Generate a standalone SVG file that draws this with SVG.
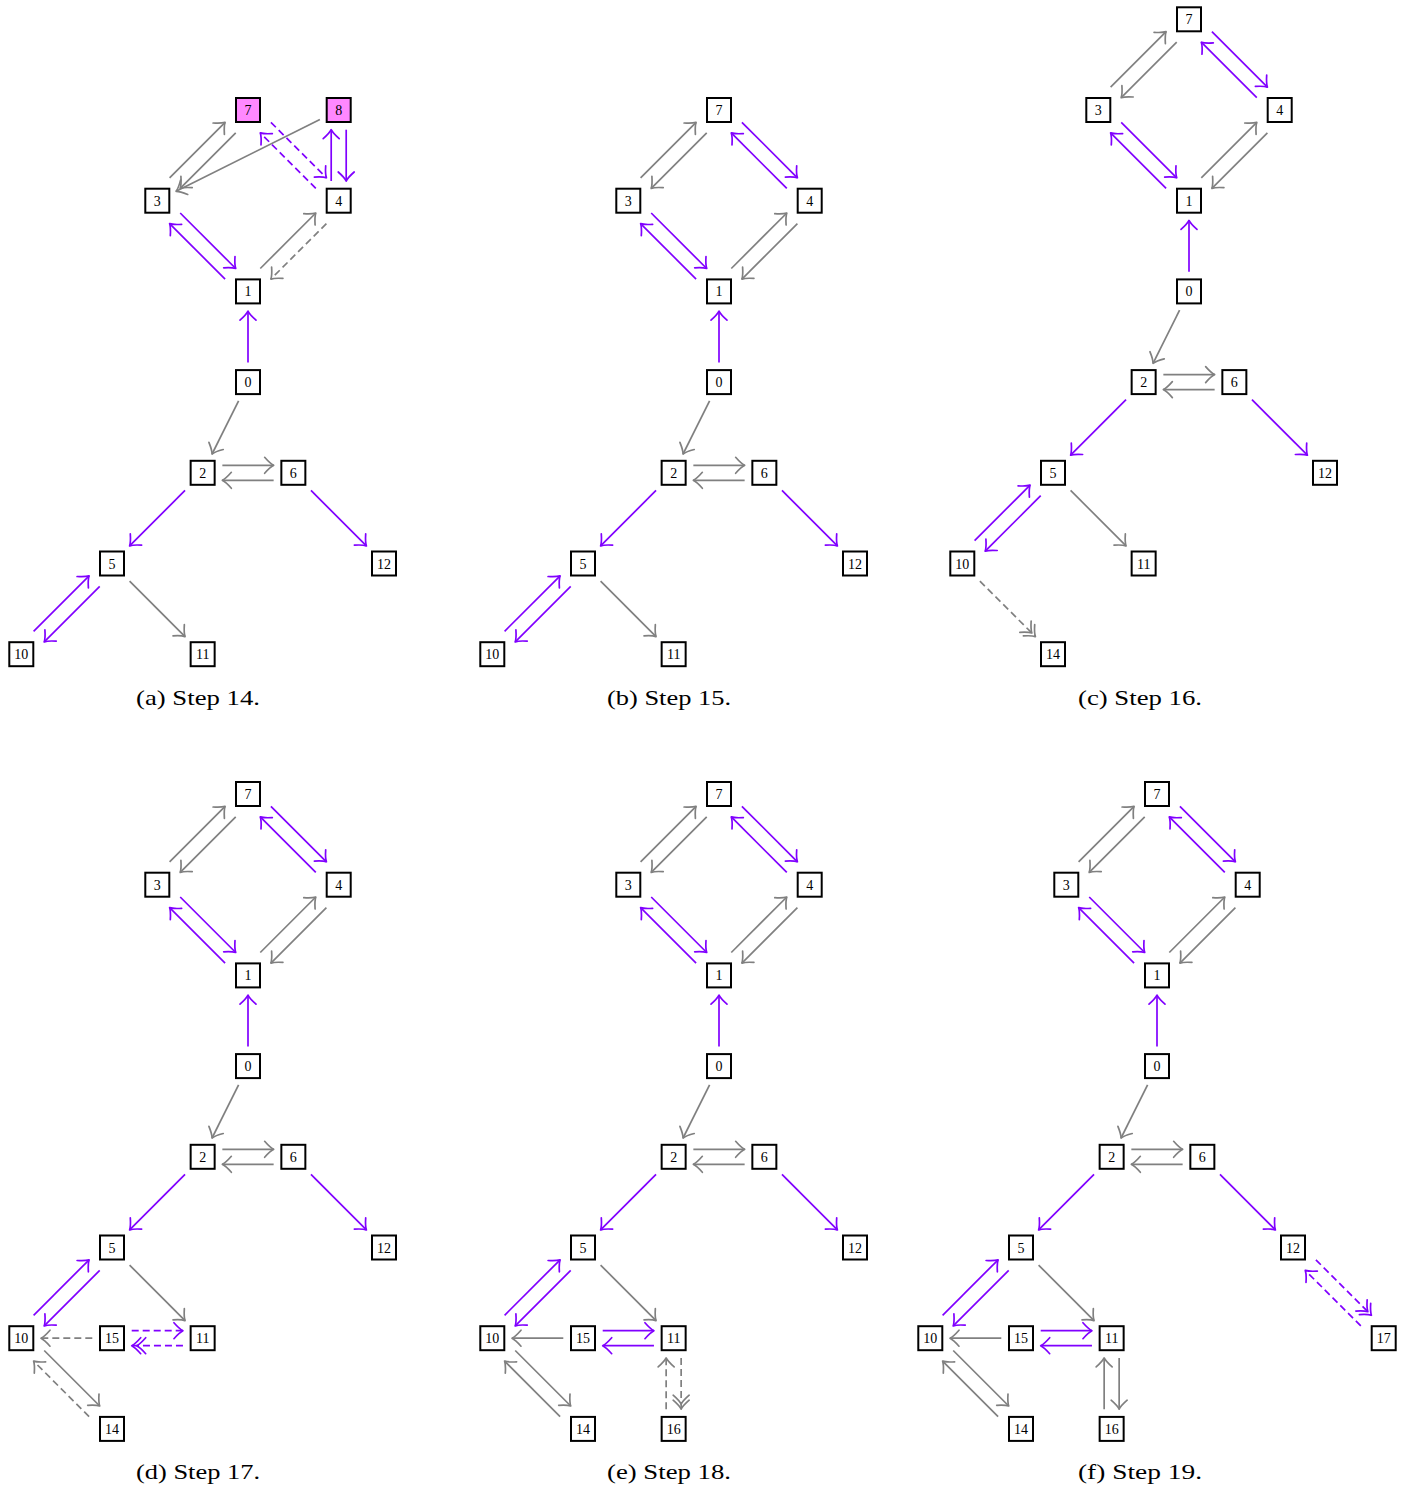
<svg xmlns="http://www.w3.org/2000/svg" width="1415" height="1489" viewBox="0 0 1415 1489">
<style>
.node rect{fill:#fff;stroke:#000;stroke-width:2}
.node.pk rect{fill:#ff88ff}
.node text{font-family:"Liberation Serif","Times New Roman",serif;font-size:14px;text-anchor:middle;fill:#000}
line.g{stroke:#808080;stroke-width:1.7;fill:none}
line.p{stroke:#8000ff;stroke-width:1.7;fill:none}
line.g{marker-end:url(#ag)}
line.p{marker-end:url(#ap)}
line.d{stroke-dasharray:7 4}
line.g.d2{marker-end:url(#ag2)}
line.p.d2{marker-end:url(#ap2)}
.mg{stroke:#808080;stroke-width:1.7;fill:none;stroke-linecap:round;stroke-linejoin:round}
.mp{stroke:#8000ff;stroke-width:1.7;fill:none;stroke-linecap:round;stroke-linejoin:round}
.cap{font-family:"Liberation Serif","Times New Roman",serif;font-size:22px;text-anchor:middle;fill:#000}
</style>
<defs>
<marker id="ag" markerUnits="userSpaceOnUse" viewBox="-12 -10 14 20" markerWidth="14" markerHeight="20" refX="0" refY="0" orient="auto" overflow="visible"><path class="mg" d="M-9,-8 C-5.5,-4 -2,-1 0,0 C-2,1 -5.5,4 -9,8"/></marker>
<marker id="ap" markerUnits="userSpaceOnUse" viewBox="-12 -10 14 20" markerWidth="14" markerHeight="20" refX="0" refY="0" orient="auto" overflow="visible"><path class="mp" d="M-9,-8 C-5.5,-4 -2,-1 0,0 C-2,1 -5.5,4 -9,8"/></marker>
<marker id="ag2" markerUnits="userSpaceOnUse" viewBox="-16 -10 18 20" markerWidth="18" markerHeight="20" refX="0" refY="0" orient="auto" overflow="visible"><path class="mg" d="M-9,-8 C-5.5,-4 -2,-1 0,0 C-2,1 -5.5,4 -9,8 M-14,-8 C-10.5,-4 -7,-1 -5,0 C-7,1 -10.5,4 -14,8"/></marker>
<marker id="ap2" markerUnits="userSpaceOnUse" viewBox="-16 -10 18 20" markerWidth="18" markerHeight="20" refX="0" refY="0" orient="auto" overflow="visible"><path class="mp" d="M-9,-8 C-5.5,-4 -2,-1 0,0 C-2,1 -5.5,4 -9,8 M-14,-8 C-10.5,-4 -7,-1 -5,0 C-7,1 -10.5,4 -14,8"/></marker>
</defs>

<!-- Panel (a) -->
<g id="panel-a">
<g id="a-edges">
<line class="g" x1="169.6" y1="177.8" x2="225.1" y2="122.3"/>
<line class="g" x1="235.7" y1="132.9" x2="180.2" y2="188.4"/>
<line class="g" x1="319.9" y1="119.4" x2="176.1" y2="191.3"/>
<line class="p d" x1="270.9" y1="122.3" x2="326.4" y2="177.8"/>
<line class="p d" x1="315.8" y1="188.4" x2="260.3" y2="132.9"/>
<line class="p" x1="331.2" y1="181" x2="331.2" y2="129.7"/>
<line class="p" x1="346.2" y1="129.7" x2="346.2" y2="181"/>
<line class="p" x1="180.2" y1="213" x2="235.7" y2="268.5"/>
<line class="p" x1="225.1" y1="279.1" x2="169.6" y2="223.6"/>
<line class="g" x1="260.3" y1="268.5" x2="315.8" y2="213"/>
<line class="g d" x1="326.4" y1="223.6" x2="270.9" y2="279.1"/>
<line class="p" x1="248" y1="362.4" x2="248" y2="311.1"/>
<line class="g" x1="238.6" y1="400.9" x2="212.05" y2="454"/>
<line class="g" x1="222.35" y1="465.3" x2="273.65" y2="465.3"/>
<line class="g" x1="273.65" y1="480.3" x2="222.35" y2="480.3"/>
<line class="p" x1="185.05" y1="490.4" x2="129.6" y2="545.9"/>
<line class="p" x1="310.95" y1="490.4" x2="366.4" y2="545.9"/>
<line class="p" x1="33.6" y1="631.3" x2="89.1" y2="575.8"/>
<line class="p" x1="99.7" y1="586.4" x2="44.2" y2="641.9"/>
<line class="g" x1="129.6" y1="581.1" x2="185.05" y2="636.6"/>
</g>
<g id="a-n7" class="node pk" transform="translate(248,110)"><rect x="-12" y="-12" width="24" height="24"/><text y="5">7</text></g>
<g id="a-n8" class="node pk" transform="translate(338.7,110)"><rect x="-12" y="-12" width="24" height="24"/><text y="5">8</text></g>
<g id="a-n3" class="node" transform="translate(157.3,200.7)"><rect x="-12" y="-12" width="24" height="24"/><text y="5">3</text></g>
<g id="a-n4" class="node" transform="translate(338.7,200.7)"><rect x="-12" y="-12" width="24" height="24"/><text y="5">4</text></g>
<g id="a-n1" class="node" transform="translate(248,291.4)"><rect x="-12" y="-12" width="24" height="24"/><text y="5">1</text></g>
<g id="a-n0" class="node" transform="translate(248,382.1)"><rect x="-12" y="-12" width="24" height="24"/><text y="5">0</text></g>
<g id="a-n2" class="node" transform="translate(202.65,472.8)"><rect x="-12" y="-12" width="24" height="24"/><text y="5">2</text></g>
<g id="a-n6" class="node" transform="translate(293.35,472.8)"><rect x="-12" y="-12" width="24" height="24"/><text y="5">6</text></g>
<g id="a-n5" class="node" transform="translate(112,563.5)"><rect x="-12" y="-12" width="24" height="24"/><text y="5">5</text></g>
<g id="a-n12" class="node" transform="translate(384,563.5)"><rect x="-12" y="-12" width="24" height="24"/><text y="5">12</text></g>
<g id="a-n10" class="node" transform="translate(21.3,654.2)"><rect x="-12" y="-12" width="24" height="24"/><text y="5">10</text></g>
<g id="a-n11" class="node" transform="translate(202.65,654.2)"><rect x="-12" y="-12" width="24" height="24"/><text y="5">11</text></g>
</g>
<text class="cap" x="198" y="705" textLength="124" lengthAdjust="spacingAndGlyphs">(a) Step 14.</text>

<!-- Panel (b) -->
<g id="panel-b" transform="translate(471,0)">
<g id="b-edges">
<line class="g" x1="169.6" y1="177.8" x2="225.1" y2="122.3"/>
<line class="g" x1="235.7" y1="132.9" x2="180.2" y2="188.4"/>
<line class="p" x1="270.9" y1="122.3" x2="326.4" y2="177.8"/>
<line class="p" x1="315.8" y1="188.4" x2="260.3" y2="132.9"/>
<line class="p" x1="180.2" y1="213" x2="235.7" y2="268.5"/>
<line class="p" x1="225.1" y1="279.1" x2="169.6" y2="223.6"/>
<line class="g" x1="260.3" y1="268.5" x2="315.8" y2="213"/>
<line class="g" x1="326.4" y1="223.6" x2="270.9" y2="279.1"/>
<line class="p" x1="248" y1="362.4" x2="248" y2="311.1"/>
<line class="g" x1="238.6" y1="400.9" x2="212.05" y2="454"/>
<line class="g" x1="222.35" y1="465.3" x2="273.65" y2="465.3"/>
<line class="g" x1="273.65" y1="480.3" x2="222.35" y2="480.3"/>
<line class="p" x1="185.05" y1="490.4" x2="129.6" y2="545.9"/>
<line class="p" x1="310.95" y1="490.4" x2="366.4" y2="545.9"/>
<line class="p" x1="33.6" y1="631.3" x2="89.1" y2="575.8"/>
<line class="p" x1="99.7" y1="586.4" x2="44.2" y2="641.9"/>
<line class="g" x1="129.6" y1="581.1" x2="185.05" y2="636.6"/>
</g>
<g id="b-n7" class="node" transform="translate(248,110)"><rect x="-12" y="-12" width="24" height="24"/><text y="5">7</text></g>
<g id="b-n3" class="node" transform="translate(157.3,200.7)"><rect x="-12" y="-12" width="24" height="24"/><text y="5">3</text></g>
<g id="b-n4" class="node" transform="translate(338.7,200.7)"><rect x="-12" y="-12" width="24" height="24"/><text y="5">4</text></g>
<g id="b-n1" class="node" transform="translate(248,291.4)"><rect x="-12" y="-12" width="24" height="24"/><text y="5">1</text></g>
<g id="b-n0" class="node" transform="translate(248,382.1)"><rect x="-12" y="-12" width="24" height="24"/><text y="5">0</text></g>
<g id="b-n2" class="node" transform="translate(202.65,472.8)"><rect x="-12" y="-12" width="24" height="24"/><text y="5">2</text></g>
<g id="b-n6" class="node" transform="translate(293.35,472.8)"><rect x="-12" y="-12" width="24" height="24"/><text y="5">6</text></g>
<g id="b-n5" class="node" transform="translate(112,563.5)"><rect x="-12" y="-12" width="24" height="24"/><text y="5">5</text></g>
<g id="b-n12" class="node" transform="translate(384,563.5)"><rect x="-12" y="-12" width="24" height="24"/><text y="5">12</text></g>
<g id="b-n10" class="node" transform="translate(21.3,654.2)"><rect x="-12" y="-12" width="24" height="24"/><text y="5">10</text></g>
<g id="b-n11" class="node" transform="translate(202.65,654.2)"><rect x="-12" y="-12" width="24" height="24"/><text y="5">11</text></g>
</g>
<text class="cap" x="669" y="705" textLength="124" lengthAdjust="spacingAndGlyphs">(b) Step 15.</text>

<!-- Panel (c) -->
<g id="panel-c" transform="translate(941,-90.7)">
<g id="c-edges">
<line class="g" x1="169.6" y1="177.8" x2="225.1" y2="122.3"/>
<line class="g" x1="235.7" y1="132.9" x2="180.2" y2="188.4"/>
<line class="p" x1="270.9" y1="122.3" x2="326.4" y2="177.8"/>
<line class="p" x1="315.8" y1="188.4" x2="260.3" y2="132.9"/>
<line class="p" x1="180.2" y1="213" x2="235.7" y2="268.5"/>
<line class="p" x1="225.1" y1="279.1" x2="169.6" y2="223.6"/>
<line class="g" x1="260.3" y1="268.5" x2="315.8" y2="213"/>
<line class="g" x1="326.4" y1="223.6" x2="270.9" y2="279.1"/>
<line class="p" x1="248" y1="362.4" x2="248" y2="311.1"/>
<line class="g" x1="238.6" y1="400.9" x2="212.05" y2="454"/>
<line class="g" x1="222.35" y1="465.3" x2="273.65" y2="465.3"/>
<line class="g" x1="273.65" y1="480.3" x2="222.35" y2="480.3"/>
<line class="p" x1="185.05" y1="490.4" x2="129.6" y2="545.9"/>
<line class="p" x1="310.95" y1="490.4" x2="366.4" y2="545.9"/>
<line class="p" x1="33.6" y1="631.3" x2="89.1" y2="575.8"/>
<line class="p" x1="99.7" y1="586.4" x2="44.2" y2="641.9"/>
<line class="g" x1="129.6" y1="581.1" x2="185.05" y2="636.6"/>
<line class="g d d2" x1="38.9" y1="671.8" x2="94.4" y2="727.3"/>
</g>
<g id="c-n7" class="node" transform="translate(248,110)"><rect x="-12" y="-12" width="24" height="24"/><text y="5">7</text></g>
<g id="c-n3" class="node" transform="translate(157.3,200.7)"><rect x="-12" y="-12" width="24" height="24"/><text y="5">3</text></g>
<g id="c-n4" class="node" transform="translate(338.7,200.7)"><rect x="-12" y="-12" width="24" height="24"/><text y="5">4</text></g>
<g id="c-n1" class="node" transform="translate(248,291.4)"><rect x="-12" y="-12" width="24" height="24"/><text y="5">1</text></g>
<g id="c-n0" class="node" transform="translate(248,382.1)"><rect x="-12" y="-12" width="24" height="24"/><text y="5">0</text></g>
<g id="c-n2" class="node" transform="translate(202.65,472.8)"><rect x="-12" y="-12" width="24" height="24"/><text y="5">2</text></g>
<g id="c-n6" class="node" transform="translate(293.35,472.8)"><rect x="-12" y="-12" width="24" height="24"/><text y="5">6</text></g>
<g id="c-n5" class="node" transform="translate(112,563.5)"><rect x="-12" y="-12" width="24" height="24"/><text y="5">5</text></g>
<g id="c-n12" class="node" transform="translate(384,563.5)"><rect x="-12" y="-12" width="24" height="24"/><text y="5">12</text></g>
<g id="c-n10" class="node" transform="translate(21.3,654.2)"><rect x="-12" y="-12" width="24" height="24"/><text y="5">10</text></g>
<g id="c-n11" class="node" transform="translate(202.65,654.2)"><rect x="-12" y="-12" width="24" height="24"/><text y="5">11</text></g>
<g id="c-n14" class="node" transform="translate(112,744.9)"><rect x="-12" y="-12" width="24" height="24"/><text y="5">14</text></g>
</g>
<text class="cap" x="1140" y="705" textLength="124" lengthAdjust="spacingAndGlyphs">(c) Step 16.</text>

<!-- Panel (d) -->
<g id="panel-d" transform="translate(0,684)">
<g id="d-edges">
<line class="g" x1="169.6" y1="177.8" x2="225.1" y2="122.3"/>
<line class="g" x1="235.7" y1="132.9" x2="180.2" y2="188.4"/>
<line class="p" x1="270.9" y1="122.3" x2="326.4" y2="177.8"/>
<line class="p" x1="315.8" y1="188.4" x2="260.3" y2="132.9"/>
<line class="p" x1="180.2" y1="213" x2="235.7" y2="268.5"/>
<line class="p" x1="225.1" y1="279.1" x2="169.6" y2="223.6"/>
<line class="g" x1="260.3" y1="268.5" x2="315.8" y2="213"/>
<line class="g" x1="326.4" y1="223.6" x2="270.9" y2="279.1"/>
<line class="p" x1="248" y1="362.4" x2="248" y2="311.1"/>
<line class="g" x1="238.6" y1="400.9" x2="212.05" y2="454"/>
<line class="g" x1="222.35" y1="465.3" x2="273.65" y2="465.3"/>
<line class="g" x1="273.65" y1="480.3" x2="222.35" y2="480.3"/>
<line class="p" x1="185.05" y1="490.4" x2="129.6" y2="545.9"/>
<line class="p" x1="310.95" y1="490.4" x2="366.4" y2="545.9"/>
<line class="p" x1="33.6" y1="631.3" x2="89.1" y2="575.8"/>
<line class="p" x1="99.7" y1="586.4" x2="44.2" y2="641.9"/>
<line class="g" x1="129.6" y1="581.1" x2="185.05" y2="636.6"/>
<line class="g d" x1="92.3" y1="654.2" x2="41" y2="654.2"/>
<line class="p d" x1="131.7" y1="646.7" x2="182.95" y2="646.7"/>
<line class="p d d2" x1="182.95" y1="661.7" x2="131.7" y2="661.7"/>
<line class="g" x1="44.2" y1="666.5" x2="99.7" y2="722"/>
<line class="g d" x1="89.1" y1="732.6" x2="33.6" y2="677.1"/>
</g>
<g id="d-n7" class="node" transform="translate(248,110)"><rect x="-12" y="-12" width="24" height="24"/><text y="5">7</text></g>
<g id="d-n3" class="node" transform="translate(157.3,200.7)"><rect x="-12" y="-12" width="24" height="24"/><text y="5">3</text></g>
<g id="d-n4" class="node" transform="translate(338.7,200.7)"><rect x="-12" y="-12" width="24" height="24"/><text y="5">4</text></g>
<g id="d-n1" class="node" transform="translate(248,291.4)"><rect x="-12" y="-12" width="24" height="24"/><text y="5">1</text></g>
<g id="d-n0" class="node" transform="translate(248,382.1)"><rect x="-12" y="-12" width="24" height="24"/><text y="5">0</text></g>
<g id="d-n2" class="node" transform="translate(202.65,472.8)"><rect x="-12" y="-12" width="24" height="24"/><text y="5">2</text></g>
<g id="d-n6" class="node" transform="translate(293.35,472.8)"><rect x="-12" y="-12" width="24" height="24"/><text y="5">6</text></g>
<g id="d-n5" class="node" transform="translate(112,563.5)"><rect x="-12" y="-12" width="24" height="24"/><text y="5">5</text></g>
<g id="d-n12" class="node" transform="translate(384,563.5)"><rect x="-12" y="-12" width="24" height="24"/><text y="5">12</text></g>
<g id="d-n10" class="node" transform="translate(21.3,654.2)"><rect x="-12" y="-12" width="24" height="24"/><text y="5">10</text></g>
<g id="d-n15" class="node" transform="translate(112,654.2)"><rect x="-12" y="-12" width="24" height="24"/><text y="5">15</text></g>
<g id="d-n11" class="node" transform="translate(202.65,654.2)"><rect x="-12" y="-12" width="24" height="24"/><text y="5">11</text></g>
<g id="d-n14" class="node" transform="translate(112,744.9)"><rect x="-12" y="-12" width="24" height="24"/><text y="5">14</text></g>
</g>
<text class="cap" x="198" y="1479" textLength="124" lengthAdjust="spacingAndGlyphs">(d) Step 17.</text>

<!-- Panel (e) -->
<g id="panel-e" transform="translate(471,684)">
<g id="e-edges">
<line class="g" x1="169.6" y1="177.8" x2="225.1" y2="122.3"/>
<line class="g" x1="235.7" y1="132.9" x2="180.2" y2="188.4"/>
<line class="p" x1="270.9" y1="122.3" x2="326.4" y2="177.8"/>
<line class="p" x1="315.8" y1="188.4" x2="260.3" y2="132.9"/>
<line class="p" x1="180.2" y1="213" x2="235.7" y2="268.5"/>
<line class="p" x1="225.1" y1="279.1" x2="169.6" y2="223.6"/>
<line class="g" x1="260.3" y1="268.5" x2="315.8" y2="213"/>
<line class="g" x1="326.4" y1="223.6" x2="270.9" y2="279.1"/>
<line class="p" x1="248" y1="362.4" x2="248" y2="311.1"/>
<line class="g" x1="238.6" y1="400.9" x2="212.05" y2="454"/>
<line class="g" x1="222.35" y1="465.3" x2="273.65" y2="465.3"/>
<line class="g" x1="273.65" y1="480.3" x2="222.35" y2="480.3"/>
<line class="p" x1="185.05" y1="490.4" x2="129.6" y2="545.9"/>
<line class="p" x1="310.95" y1="490.4" x2="366.4" y2="545.9"/>
<line class="p" x1="33.6" y1="631.3" x2="89.1" y2="575.8"/>
<line class="p" x1="99.7" y1="586.4" x2="44.2" y2="641.9"/>
<line class="g" x1="129.6" y1="581.1" x2="185.05" y2="636.6"/>
<line class="g" x1="92.3" y1="654.2" x2="41" y2="654.2"/>
<line class="p" x1="131.7" y1="646.7" x2="182.95" y2="646.7"/>
<line class="p" x1="182.95" y1="661.7" x2="131.7" y2="661.7"/>
<line class="g" x1="44.2" y1="666.5" x2="99.7" y2="722"/>
<line class="g" x1="89.1" y1="732.6" x2="33.6" y2="677.1"/>
<line class="g d" x1="195.15" y1="725.2" x2="195.15" y2="673.9"/>
<line class="g d d2" x1="210.15" y1="673.9" x2="210.15" y2="725.2"/>
</g>
<g id="e-n7" class="node" transform="translate(248,110)"><rect x="-12" y="-12" width="24" height="24"/><text y="5">7</text></g>
<g id="e-n3" class="node" transform="translate(157.3,200.7)"><rect x="-12" y="-12" width="24" height="24"/><text y="5">3</text></g>
<g id="e-n4" class="node" transform="translate(338.7,200.7)"><rect x="-12" y="-12" width="24" height="24"/><text y="5">4</text></g>
<g id="e-n1" class="node" transform="translate(248,291.4)"><rect x="-12" y="-12" width="24" height="24"/><text y="5">1</text></g>
<g id="e-n0" class="node" transform="translate(248,382.1)"><rect x="-12" y="-12" width="24" height="24"/><text y="5">0</text></g>
<g id="e-n2" class="node" transform="translate(202.65,472.8)"><rect x="-12" y="-12" width="24" height="24"/><text y="5">2</text></g>
<g id="e-n6" class="node" transform="translate(293.35,472.8)"><rect x="-12" y="-12" width="24" height="24"/><text y="5">6</text></g>
<g id="e-n5" class="node" transform="translate(112,563.5)"><rect x="-12" y="-12" width="24" height="24"/><text y="5">5</text></g>
<g id="e-n12" class="node" transform="translate(384,563.5)"><rect x="-12" y="-12" width="24" height="24"/><text y="5">12</text></g>
<g id="e-n10" class="node" transform="translate(21.3,654.2)"><rect x="-12" y="-12" width="24" height="24"/><text y="5">10</text></g>
<g id="e-n15" class="node" transform="translate(112,654.2)"><rect x="-12" y="-12" width="24" height="24"/><text y="5">15</text></g>
<g id="e-n11" class="node" transform="translate(202.65,654.2)"><rect x="-12" y="-12" width="24" height="24"/><text y="5">11</text></g>
<g id="e-n14" class="node" transform="translate(112,744.9)"><rect x="-12" y="-12" width="24" height="24"/><text y="5">14</text></g>
<g id="e-n16" class="node" transform="translate(202.65,744.9)"><rect x="-12" y="-12" width="24" height="24"/><text y="5">16</text></g>
</g>
<text class="cap" x="669" y="1479" textLength="124" lengthAdjust="spacingAndGlyphs">(e) Step 18.</text>

<!-- Panel (f) -->
<g id="panel-f" transform="translate(909,684)">
<g id="f-edges">
<line class="g" x1="169.6" y1="177.8" x2="225.1" y2="122.3"/>
<line class="g" x1="235.7" y1="132.9" x2="180.2" y2="188.4"/>
<line class="p" x1="270.9" y1="122.3" x2="326.4" y2="177.8"/>
<line class="p" x1="315.8" y1="188.4" x2="260.3" y2="132.9"/>
<line class="p" x1="180.2" y1="213" x2="235.7" y2="268.5"/>
<line class="p" x1="225.1" y1="279.1" x2="169.6" y2="223.6"/>
<line class="g" x1="260.3" y1="268.5" x2="315.8" y2="213"/>
<line class="g" x1="326.4" y1="223.6" x2="270.9" y2="279.1"/>
<line class="p" x1="248" y1="362.4" x2="248" y2="311.1"/>
<line class="g" x1="238.6" y1="400.9" x2="212.05" y2="454"/>
<line class="g" x1="222.35" y1="465.3" x2="273.65" y2="465.3"/>
<line class="g" x1="273.65" y1="480.3" x2="222.35" y2="480.3"/>
<line class="p" x1="185.05" y1="490.4" x2="129.6" y2="545.9"/>
<line class="p" x1="310.95" y1="490.4" x2="366.4" y2="545.9"/>
<line class="p" x1="33.6" y1="631.3" x2="89.1" y2="575.8"/>
<line class="p" x1="99.7" y1="586.4" x2="44.2" y2="641.9"/>
<line class="g" x1="129.6" y1="581.1" x2="185.05" y2="636.6"/>
<line class="g" x1="92.3" y1="654.2" x2="41" y2="654.2"/>
<line class="p" x1="131.7" y1="646.7" x2="182.95" y2="646.7"/>
<line class="p" x1="182.95" y1="661.7" x2="131.7" y2="661.7"/>
<line class="g" x1="44.2" y1="666.5" x2="99.7" y2="722"/>
<line class="g" x1="89.1" y1="732.6" x2="33.6" y2="677.1"/>
<line class="g" x1="195.15" y1="725.2" x2="195.15" y2="673.9"/>
<line class="g" x1="210.15" y1="673.9" x2="210.15" y2="725.2"/>
<line class="p d d2" x1="406.9" y1="575.8" x2="462.4" y2="631.3"/>
<line class="p d" x1="451.8" y1="641.9" x2="396.3" y2="586.4"/>
</g>
<g id="f-n7" class="node" transform="translate(248,110)"><rect x="-12" y="-12" width="24" height="24"/><text y="5">7</text></g>
<g id="f-n3" class="node" transform="translate(157.3,200.7)"><rect x="-12" y="-12" width="24" height="24"/><text y="5">3</text></g>
<g id="f-n4" class="node" transform="translate(338.7,200.7)"><rect x="-12" y="-12" width="24" height="24"/><text y="5">4</text></g>
<g id="f-n1" class="node" transform="translate(248,291.4)"><rect x="-12" y="-12" width="24" height="24"/><text y="5">1</text></g>
<g id="f-n0" class="node" transform="translate(248,382.1)"><rect x="-12" y="-12" width="24" height="24"/><text y="5">0</text></g>
<g id="f-n2" class="node" transform="translate(202.65,472.8)"><rect x="-12" y="-12" width="24" height="24"/><text y="5">2</text></g>
<g id="f-n6" class="node" transform="translate(293.35,472.8)"><rect x="-12" y="-12" width="24" height="24"/><text y="5">6</text></g>
<g id="f-n5" class="node" transform="translate(112,563.5)"><rect x="-12" y="-12" width="24" height="24"/><text y="5">5</text></g>
<g id="f-n12" class="node" transform="translate(384,563.5)"><rect x="-12" y="-12" width="24" height="24"/><text y="5">12</text></g>
<g id="f-n10" class="node" transform="translate(21.3,654.2)"><rect x="-12" y="-12" width="24" height="24"/><text y="5">10</text></g>
<g id="f-n15" class="node" transform="translate(112,654.2)"><rect x="-12" y="-12" width="24" height="24"/><text y="5">15</text></g>
<g id="f-n11" class="node" transform="translate(202.65,654.2)"><rect x="-12" y="-12" width="24" height="24"/><text y="5">11</text></g>
<g id="f-n17" class="node" transform="translate(474.7,654.2)"><rect x="-12" y="-12" width="24" height="24"/><text y="5">17</text></g>
<g id="f-n14" class="node" transform="translate(112,744.9)"><rect x="-12" y="-12" width="24" height="24"/><text y="5">14</text></g>
<g id="f-n16" class="node" transform="translate(202.65,744.9)"><rect x="-12" y="-12" width="24" height="24"/><text y="5">16</text></g>
</g>
<text class="cap" x="1140" y="1479" textLength="124" lengthAdjust="spacingAndGlyphs">(f) Step 19.</text>
</svg>
